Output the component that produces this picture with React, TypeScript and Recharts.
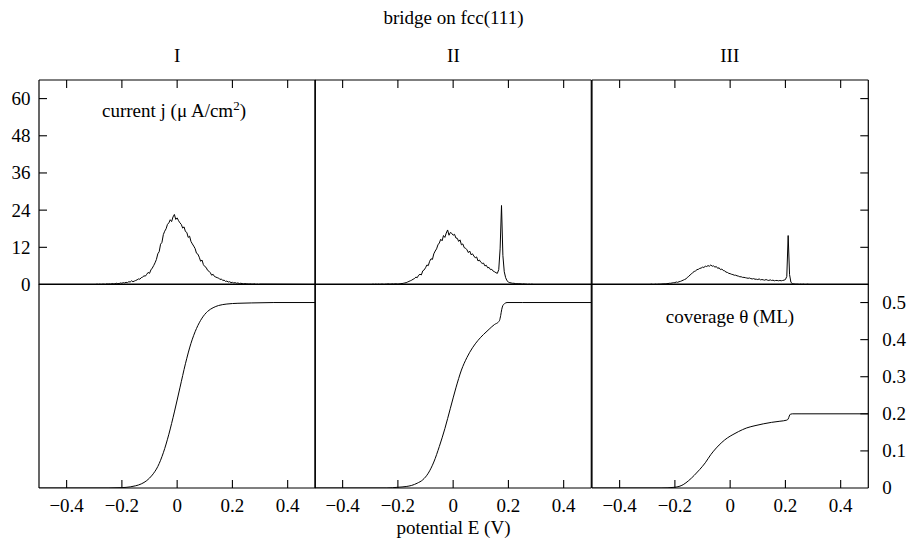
import { LineChart, Line, XAxis, YAxis } from 'recharts';

// potential grid (V) shared by the three current panels
const potentialGrid = [
  -0.5,
  -0.3, -0.295, -0.29, -0.285, -0.28, -0.275, -0.27, -0.265, -0.26, -0.255,
  -0.25, -0.245, -0.24, -0.235, -0.23, -0.225, -0.22, -0.215, -0.21, -0.205,
  -0.2, -0.195, -0.19, -0.185, -0.18, -0.175, -0.17, -0.165, -0.16, -0.155,
  -0.15, -0.145, -0.14, -0.135, -0.13, -0.125, -0.12, -0.115, -0.11, -0.105,
  -0.1, -0.095, -0.09, -0.085, -0.08, -0.075, -0.07, -0.065, -0.06, -0.055,
  -0.05, -0.045, -0.04, -0.035, -0.03, -0.025, -0.02, -0.015, -0.01, -0.005,
  0, 0.005, 0.01, 0.015, 0.02, 0.025, 0.03, 0.035, 0.04, 0.045,
  0.05, 0.055, 0.06, 0.065, 0.07, 0.075, 0.08, 0.085, 0.09, 0.095,
  0.1, 0.105, 0.11, 0.115, 0.12, 0.125, 0.13, 0.135, 0.14, 0.145,
  0.15, 0.155, 0.16, 0.165, 0.17, 0.175, 0.18, 0.185, 0.19, 0.195,
  0.2, 0.205, 0.21, 0.215, 0.22, 0.225, 0.23, 0.235, 0.24, 0.245,
  0.25, 0.255, 0.26, 0.265, 0.27, 0.275, 0.28, 0.285, 0.29, 0.295,
  0.3,
  0.5,
];

// current j (uA/cm2)
const currentI = [
  0,
  0, 0, 0.1, 0, 0.1, 0, 0.1, 0.1, 0, 0.2,
  0.1, 0.2, 0.1, 0.3, 0.2, 0.2, 0.4, 0.3, 0.3, 0.5,
  0.4, 0.6, 0.5, 0.7, 0.6, 0.9, 0.8, 1.2, 0.9, 1.1,
  1.3, 1.5, 1.8, 1.7, 2.2, 2.4, 2.8, 2.7, 3.3, 3.9,
  3.6, 4.7, 5.3, 6.1, 7.0, 8.1, 9.9, 10.6, 13.0, 13.6,
  16.1, 17.2, 18.0, 19.4, 19.9, 20.9, 20.3, 21.8, 22.6, 21.0,
  21.5, 20.6, 19.9, 19.4, 18.2, 18.6, 17.1, 16.8, 15.2, 15.6,
  13.9, 13.1, 12.4, 11.6, 10.1, 9.8, 8.8, 7.5, 7.9, 6.4,
  5.8, 5.5, 4.6, 4.3, 3.8, 3.0, 3.3, 2.6, 2.4, 2.2,
  2.1, 1.6, 1.8, 1.3, 1.4, 1.0, 1.1, 0.8, 0.9, 0.6,
  0.7, 0.5, 0.6, 0.4, 0.5, 0.3, 0.4, 0.3, 0.2, 0.3,
  0.2, 0.2, 0.1, 0.2, 0.1, 0.1, 0.2, 0, 0.1, 0,
  0.1,
  0,
];

const currentII = [
  0,
  0, 0, 0.1, 0, 0.1, 0, 0.1, 0, 0.1, 0.1,
  0, 0.1, 0.1, 0.2, 0.1, 0.1, 0.2, 0.1, 0.2, 0.2,
  0.1, 0.2, 0.3, 0.3, 0.4, 0.5, 0.6, 0.8, 1.0, 1.2,
  1.4, 1.7, 1.9, 2.4, 2.2, 3.0, 3.3, 3.1, 4.4, 4.7,
  5.4, 6.3, 6.1, 7.5, 8.3, 8.1, 9.9, 10.8, 11.5, 12.8,
  13.4, 14.6, 14.1, 15.8, 15.2, 16.6, 17.6, 15.9, 16.8, 16.5,
  15.9, 16.2, 15.0, 14.9, 13.9, 14.4, 12.8, 13.1, 11.9, 11.7,
  11.2, 10.3, 10.8, 9.6, 9.9, 9.2, 8.6, 8.9, 7.6, 7.9,
  7.2, 6.8, 6.9, 6.0, 6.2, 5.4, 5.5, 4.8, 4.9, 4.3,
  4.1, 3.8, 3.6, 4.8, 11.5, 25.5, 9.4, 4.1, 2.2, 1.2,
  0.8, 0.6, 0.5, 0.4, 0.4, 0.3, 0.3, 0.2, 0.3, 0.2,
  0.1, 0.2, 0.1, 0.1, 0, 0.1, 0, 0.1, 0, 0,
  0,
  0,
];

const currentIII = [
  0,
  0, 0, 0, 0.1, 0, 0, 0.1, 0, 0.1, 0.1,
  0.1, 0.2, 0.2, 0.2, 0.3, 0.3, 0.4, 0.4, 0.5, 0.6,
  0.6, 0.8, 0.7, 0.9, 1.0, 1.2, 1.4, 1.6, 1.8, 2.3,
  2.6, 3.1, 3.4, 3.9, 4.2, 4.4, 4.8, 4.9, 5.2, 5.3,
  5.6, 5.5, 5.9, 5.8, 6.1, 5.9, 6.3, 5.9, 6.0, 5.6,
  5.8, 5.2, 5.4, 4.8, 5.0, 4.5, 4.4, 4.0, 3.9, 3.6,
  3.5, 3.3, 3.2, 3.0, 3.0, 2.8, 2.7, 2.5, 2.5, 2.3,
  2.3, 2.2, 2.1, 2.0, 2.1, 1.9, 1.8, 1.9, 1.7, 1.7,
  1.6, 1.8, 1.5, 1.6, 1.5, 1.4, 1.6, 1.4, 1.3, 1.5,
  1.3, 1.4, 1.2, 1.3, 1.3, 1.2, 1.3, 1.2, 1.3, 1.4,
  1.6, 2.6, 15.8, 3.2, 0.7, 0.3, 0.2, 0.1, 0.1, 0.1,
  0, 0.1, 0, 0.1, 0, 0, 0.1, 0, 0, 0,
  0,
  0,
];

// coverage theta (ML)
const coverageEI = [-0.5, -0.25, -0.2, -0.17, -0.15, -0.13, -0.11, -0.09, -0.07, -0.05, -0.03, -0.01, 0.01, 0.03, 0.05, 0.07, 0.09, 0.11, 0.13, 0.15, 0.18, 0.22, 0.27, 0.35, 0.5];
const coverageI = [0, 0, 0.001, 0.003, 0.006, 0.011, 0.02, 0.035, 0.058, 0.095, 0.145, 0.205, 0.27, 0.335, 0.39, 0.43, 0.458, 0.476, 0.486, 0.492, 0.496, 0.498, 0.499, 0.5, 0.5];

const coverageEII = [-0.5, -0.24, -0.2, -0.17, -0.15, -0.13, -0.11, -0.09, -0.07, -0.05, -0.03, -0.01, 0.01, 0.03, 0.05, 0.07, 0.09, 0.11, 0.13, 0.15, 0.163, 0.168, 0.172, 0.176, 0.18, 0.186, 0.195, 0.25, 0.5];
const coverageII = [0, 0, 0.002, 0.004, 0.007, 0.013, 0.022, 0.04, 0.07, 0.112, 0.16, 0.215, 0.27, 0.318, 0.352, 0.378, 0.398, 0.414, 0.428, 0.441, 0.447, 0.452, 0.465, 0.482, 0.492, 0.497, 0.5, 0.5, 0.5];

const coverageEIII = [-0.5, -0.25, -0.2, -0.17, -0.15, -0.13, -0.11, -0.09, -0.07, -0.05, -0.03, -0.01, 0.01, 0.03, 0.06, 0.09, 0.12, 0.15, 0.18, 0.205, 0.21, 0.214, 0.218, 0.225, 0.26, 0.5];
const coverageIII = [0, 0, 0.002, 0.009, 0.02, 0.034, 0.05, 0.068, 0.09, 0.108, 0.123, 0.135, 0.144, 0.152, 0.162, 0.168, 0.173, 0.177, 0.18, 0.183, 0.186, 0.194, 0.199, 0.2, 0.2, 0.2];

const potentialTicks = [-0.4, -0.2, 0, 0.2, 0.4];
const currentTicks = [0, 12, 24, 36, 48, 60];
const coverageTicks = [0, 0.1, 0.2, 0.3, 0.4, 0.5];
const columnLabels = ['I', 'II', 'III'];

const FONT = 'Liberation Serif, DejaVu Serif, serif';
const FS = 19;
const MARK = 8;
const W = 276.3;
const PANEL_LEFT = [39, 315.3, 591.6];
const TOP_Y = 79.5;
const MID_Y = 284;
const BOT_Y = 488;
const frame = { stroke: '#000', strokeWidth: 1.2 };
const txt = { fontFamily: FONT, fontSize: FS };

const fmt = (v: number) => (v === 0 ? '0' : v < 0 ? '\u2212' + String(-v) : String(v));

const zip = (xs: number[], ys: number[]) => xs.map((E, i) => ({ E, v: ys[i] }));

type Side = 'top' | 'bottom' | 'left' | 'right';

function makeTick(side: Side, mark: boolean, label: boolean) {
  return (props: any) => {
    const { x, y, payload } = props;
    const v = payload.value as number;
    let l = null;
    let t = null;
    if (side === 'top') {
      if (mark) l = <line x1={x} y1={y} x2={x} y2={y + MARK} stroke="#000" strokeWidth={1.1} />;
    } else if (side === 'bottom') {
      if (mark) l = <line x1={x} y1={y} x2={x} y2={y - MARK} stroke="#000" strokeWidth={1.1} />;
      if (label)
        t = (
          <text x={x} y={y + 24} textAnchor="middle" style={txt} fill="#000">
            {fmt(v)}
          </text>
        );
    } else if (side === 'left') {
      if (mark && v !== 0) l = <line x1={x} y1={y} x2={x + MARK} y2={y} stroke="#000" strokeWidth={1.1} />;
      if (label)
        t = (
          <text x={x - 8.5} y={y + 6.5} textAnchor="end" style={txt} fill="#000">
            {fmt(v)}
          </text>
        );
    } else {
      if (mark && v !== 0) l = <line x1={x} y1={y} x2={x - MARK} y2={y} stroke="#000" strokeWidth={1.1} />;
      if (label)
        t = (
          <text x={x + 14} y={y + 6.5} textAnchor="start" style={txt} fill="#000">
            {fmt(v)}
          </text>
        );
    }
    return (
      <g>
        {l}
        {t}
      </g>
    );
  };
}

type PanelProps = {
  col: number;
  top: number;
  height: number;
  rows: { E: number; v: number }[];
  yDomain: [number, number];
  yTicks: number[];
  curve: 'linear' | 'monotone';
  topMarks?: boolean;
  bottomMarks?: boolean;
  leftMarks?: boolean;
  leftLabels?: boolean;
  rightMarks?: boolean;
  rightLabels?: boolean;
};

function Panel(p: PanelProps) {
  const common = { tickSize: 0, tickMargin: 0, tickLine: false, axisLine: frame, interval: 0 as const, allowDataOverflow: true };
  return (
    <div style={{ position: 'absolute', left: PANEL_LEFT[p.col] - 1, top: p.top - 1 }}>
      <LineChart width={W + 2} height={p.height + 2} data={p.rows} margin={{ top: 0, right: 0, bottom: 0, left: 0 }}>
        <XAxis
          {...common}
          xAxisId="b"
          dataKey="E"
          type="number"
          domain={[-0.5, 0.5]}
          ticks={potentialTicks}
          orientation="bottom"
          height={1}
          tick={p.bottomMarks ? makeTick('bottom', true, true) : false}
        />
        <XAxis
          {...common}
          xAxisId="t"
          dataKey="E"
          type="number"
          domain={[-0.5, 0.5]}
          ticks={potentialTicks}
          orientation="top"
          height={1}
          tick={p.topMarks ? makeTick('top', true, false) : false}
        />
        <YAxis
          {...common}
          yAxisId="l"
          type="number"
          domain={p.yDomain}
          ticks={p.yTicks}
          orientation="left"
          width={1}
          tick={p.leftMarks ? makeTick('left', true, !!p.leftLabels) : false}
        />
        <YAxis
          {...common}
          yAxisId="r"
          type="number"
          domain={p.yDomain}
          ticks={p.yTicks}
          orientation="right"
          width={1}
          tick={p.rightMarks ? makeTick('right', true, !!p.rightLabels) : false}
        />
        <Line
          xAxisId="b"
          yAxisId="l"
          dataKey="v"
          type={p.curve}
          stroke="#000"
          strokeWidth={1}
          dot={false}
          isAnimationActive={false}
        />
      </LineChart>
    </div>
  );
}

export default function App() {
  const currents = [currentI, currentII, currentIII];
  const coverages = [
    zip(coverageEI, coverageI),
    zip(coverageEII, coverageII),
    zip(coverageEIII, coverageIII),
  ];
  return (
    <div style={{ position: 'absolute', left: 0, top: 0, width: 907, height: 539, background: '#fff', fontFamily: FONT }}>
      <style>{`.recharts-surface{overflow:visible} text{font-family:'Liberation Serif','DejaVu Serif',serif}`}</style>
      {currents.map((c, i) => (
        <Panel
          key={'j' + i}
          col={i}
          top={TOP_Y}
          height={MID_Y - TOP_Y}
          rows={zip(potentialGrid, c)}
          yDomain={[0, 66]}
          yTicks={currentTicks}
          curve="linear"
          topMarks
          leftMarks={i === 0}
          leftLabels={i === 0}
          rightMarks={i === 2}
        />
      ))}
      {coverages.map((rows, i) => (
        <Panel
          key={'t' + i}
          col={i}
          top={MID_Y}
          height={BOT_Y - MID_Y}
          rows={rows}
          yDomain={[0, 0.55]}
          yTicks={coverageTicks}
          curve="monotone"
          bottomMarks
          rightMarks={i === 2}
          rightLabels={i === 2}
        />
      ))}
      <svg
        width={907}
        height={539}
        style={{ position: 'absolute', left: 0, top: 0, pointerEvents: 'none' }}
      >
        <text x={453.5} y={24} textAnchor="middle" style={txt}>
          bridge on fcc(111)
        </text>
        {columnLabels.map((c, i) => (
          <text key={c} x={PANEL_LEFT[i] + W / 2} y={62} textAnchor="middle" style={txt}>
            {c}
          </text>
        ))}
        <text x={102} y={117} style={txt}>
          current j (μ{'\u2009'}A/cm
          <tspan dy={-7} fontSize={13}>
            2
          </tspan>
          <tspan dy={7}>)</tspan>
        </text>
        <text x={730} y={323} textAnchor="middle" style={txt}>
          coverage θ (ML)
        </text>
        <text x={453.5} y={534} textAnchor="middle" style={txt}>
          potential E (V)
        </text>
      </svg>
    </div>
  );
}
